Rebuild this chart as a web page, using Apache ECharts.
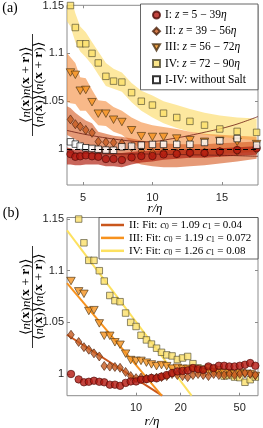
<!DOCTYPE html>
<html><head><meta charset="utf-8">
<script src="https://cdn.jsdelivr.net/npm/echarts@6/dist/echarts.min.js"></script>
<style>html,body{margin:0;padding:0;background:#fff;}#c{width:263px;height:428px;}</style>
</head><body><div id="c"></div>
<script>
// ---- data ----
const R = [3.64, 4.1, 4.45, 4.8, 5.2, 5.65, 6.1, 6.65, 7.2, 7.8, 8.5, 9.2, 10.0, 10.8, 11.75, 12.7, 13.75, 14.85, 16.1, 17.5,
  19.0, 20.6, 22.3, 24.2, 26.2, 28.4, 30.8, 33.4, 36.2, 39.3, 42.6, 46.2, 50.1, 54.3, 58.9, 63.8];
const S_I = [1.000, 0.9948, 0.992, 0.9925, 0.9935, 0.9925, 0.992, 0.9897, 0.9897, 0.9886, 0.9914, 0.9928, 0.9928, 0.9945, 0.995, 0.9962, 0.9958, 0.9975, 0.999, 1.001,
  1.0025, 1.003, 1.0035, 1.0058, 1.0048, 1.004, 1.0073, 1.0058, 1.008, 1.008, 1.0073, 1.0073, 1.008, 1.009, 1.0106, 1.008];
const S_II = [1.038, 1.031, 1.026, 1.0235, 1.020, 1.017, 1.0078, 1.0072, 1.0068, 1.006, 1.002, 0.998, 0.996, 0.9965, 0.9955, 0.996, 0.9965, 0.997, 0.998, 1.0,
  0.999, 0.998, 0.997, 0.999, 1.0, 0.999, 0.998, 1.0, 0.999, 0.999, 1.0, 0.999, 1.0, 1.001, 1.0, 0.999];
const S_III = [1.090, 1.080, 1.0776, 1.061, 1.0618, 1.049, 1.037, 1.037, 1.0307, 1.0283, 1.0197, 1.0135, 1.0127, 1.0127, 1.011, 1.0093, 1.0076, 1.0086, 1.0076, 1.0052,
  1.006, 1.005, 1.005, 1.004, 1.003, 1.002, 1.002, 1.002, 1.001, 1.001, 1.001, 1.0, 1.001, 1.0, 1.0, 0.998];
const S_IV = [null, 1.150, 1.127, 1.110, 1.110, 1.100, 1.090, 1.076, 1.071, 1.070, 1.059, 1.050, 1.046, 1.0375, 1.033, 1.029, 1.025, 1.021, 1.0185, 1.0175,
  1.014, 1.0155, 1.017, 1.010, 1.006, 1.005, 1.006, 1.005, 1.004, 0.998, 0.9985, 0.997, 0.9965, 0.992, 0.9945, 0.997];
const S_W = [null, 1.0076, 1.0052, 1.0031, 1.0014, 1.0007, 0.9998, 0.999, 0.9988, 1.0024, 1.003, 1.0041, 1.0049, 1.0049, 1.005, 1.005, 1.0069, 1.0086, 1.011, 1.0041];

// error bands of panel (a), on R[0..19]
const IV_LO = [1.138, 1.128, 1.112, 1.102, 1.096, 1.088, 1.078, 1.066, 1.063, 1.060, 1.049, 1.040, 1.033, 1.027, 1.022, 1.018, 1.015, 1.013, 1.011, 1.009];
const IV_HI = [1.170, 1.160, 1.142, 1.128, 1.122, 1.112, 1.102, 1.090, 1.084, 1.080, 1.069, 1.061, 1.056, 1.050, 1.046, 1.042, 1.038, 1.035, 1.033, 1.032];
const III_LO = [1.050, 1.048, 1.047, 1.040, 1.040, 1.032, 1.025, 1.024, 1.018, 1.015, 1.007, 1.000, 0.997, 0.996, 0.995, 0.994, 0.994, 0.995, 0.996, 0.997];
const III_HI = [1.104, 1.096, 1.090, 1.075, 1.074, 1.062, 1.051, 1.050, 1.044, 1.040, 1.033, 1.028, 1.025, 1.023, 1.021, 1.018, 1.016, 1.015, 1.014, 1.013];
const II_LO = [1.016, 1.013, 1.010, 1.007, 1.004, 1.002, 0.996, 0.994, 0.993, 0.991, 0.987, 0.984, 0.982, 0.981, 0.981, 0.982, 0.983, 0.985, 0.987, 0.990];
const II_HI = [1.046, 1.043, 1.038, 1.034, 1.030, 1.027, 1.018, 1.016, 1.014, 1.013, 1.011, 1.009, 1.007, 1.006, 1.005, 1.005, 1.005, 1.006, 1.007, 1.008];
const I_LO = [0.984, 0.984, 0.983, 0.983, 0.984, 0.984, 0.984, 0.982, 0.982, 0.981, 0.984, 0.986, 0.987, 0.989, 0.990, 0.991, 0.991, 0.992, 0.993, 0.994];
const I_HI = [1.002, 1.001, 0.999, 0.999, 0.9995, 0.999, 0.998, 0.997, 0.996, 0.996, 0.997, 0.998, 0.998, 0.999, 0.999, 1.0, 1.0, 1.001, 1.002, 1.003];

// thin envelope lines (without salt)
const WUP_R = [3.85, 5.48, 7.87, 9.56, 11.47, 13.88, 15.8, 17.6];
const WUP = [1.0195, 1.0145, 1.0093, 1.0076, 1.011, 1.018, 1.0248, 1.034];
const WLO_R = [3.85, 5.0, 7.0, 10.0, 13.0, 15.0, 17.6];
const WLO = [0.9965, 0.9955, 0.995, 0.9948, 0.994, 0.9935, 0.9925];

// fit lines of panel (b)
const FII_R = [3.42, 15.0], FII = [1.038, 0.979];
const FIII_R = [3.42, 14.9], FIII = [1.088, 0.979];
const FIV_R = [3.42, 23.7], FIV = [1.139, 0.979];

const XT_A = [5, 10, 15];
const XT_B = [10, 20, 50];
const YT = [1, 1.05, 1.1, 1.15];

// ---- helpers ----
const RB = R.slice(0, 20);
function pts(xs, ys) { return xs.map((x, i) => [x, ys[i]]).filter(p => p[1] != null); }
const AX = '#8c8c8c';
const fmt = v => String(+(+v).toFixed(2));
function mkX(gi, type, min, max, ticks, pos) {
  const o = { gridIndex: gi, type, min, max, position: pos,
    axisLine: { show: false }, splitLine: { show: false }, minorTick: { show: false },
    axisTick: { show: true, inside: true, length: 3, customValues: ticks, lineStyle: { color: AX, width: 1 } },
    axisLabel: { show: pos === 'bottom', customValues: ticks, margin: 7, fontSize: 11, fontFamily: 'Liberation Sans', color: '#262626', formatter: fmt } };
  if (type === 'log') o.logBase = 10;
  return o;
}
function mkY(gi, min, max, pos) {
  return { gridIndex: gi, type: 'value', min, max, position: pos,
    axisLine: { show: false }, splitLine: { show: false },
    axisTick: { show: true, inside: true, length: 3, customValues: YT, lineStyle: { color: AX, width: 1 } },
    axisLabel: { show: pos === 'left', customValues: YT, margin: 3, fontSize: 11, fontFamily: 'Liberation Sans', color: '#262626', formatter: fmt } };
}
function band(lo, hi, color) {
  return { type: 'custom', xAxisIndex: 0, yAxisIndex: 0, clip: true, silent: true, z: 1,
    data: [[RB[1], lo[1]]],
    renderItem: (params, api) => {
      const top = RB.map((x, i) => api.coord([x, hi[i]]));
      const bot = RB.map((x, i) => api.coord([x, lo[i]])).reverse();
      return { type: 'polygon', shape: { points: top.concat(bot) }, style: { fill: color } };
    } };
}
const TRI = 'path://M0,0L10,0L5,9Z';
const MK = {
  I: { symbol: 'circle', symbolSize: 7.5, itemStyle: { color: '#b3170f', borderColor: '#4a0a06', borderWidth: 0.8 } },
  II: { symbol: 'diamond', symbolSize: [6.5, 9], itemStyle: { color: '#c65a1f', borderColor: '#4a220c', borderWidth: 0.8 } },
  III: { symbol: TRI, symbolSize: [8.5, 7.5], itemStyle: { color: '#f5921e', borderColor: '#4a3010', borderWidth: 0.8 } },
  IV: { symbol: 'rect', symbolSize: 6.5, itemStyle: { color: '#fbe06a', borderColor: '#4f4a30', borderWidth: 0.8 } },
  W: { symbol: 'rect', symbolSize: 6.5, itemStyle: { color: '#ffffff', borderColor: '#000000', borderWidth: 0.8 } }
};
function sc(name, key, xi, yi, data, z, extra) {
  return Object.assign({ type: 'scatter', name, xAxisIndex: xi, yAxisIndex: yi, data, z, clip: true, silent: true }, MK[key], extra || {});
}
function fit(name, xs, ys, color) {
  return { type: 'line', name, xAxisIndex: 2, yAxisIndex: 2, data: pts(xs, ys), symbol: 'none', color, silent: true, z: 2,
    lineStyle: { color, width: 2 } };
}

const LEG_A = {
  I: '{n|I: }{i|z}{n| = 5 − 39}{i|η}',
  II: '{n|II: }{i|z}{n| = 39 − 56}{i|η}',
  III: '{n|III: }{i|z}{n| = 56 − 72}{i|η}',
  IV: '{n|IV: }{i|z}{n| = 72 − 90}{i|η}',
  W: '{n|I-IV: without Salt}'
};
const LEG_B = {
  fII: '{n|II: Fit: }{i|c}{s|0}{n| = 1.09 }{i|c}{s|1}{n| = 0.04}',
  fIII: '{n|III: Fit: }{i|c}{s|0}{n| = 1.19 }{i|c}{s|1}{n| = 0.072}',
  fIV: '{n|IV: Fit: }{i|c}{s|0}{n| = 1.26 }{i|c}{s|1}{n| = 0.08}'
};
const SERIF = 'Liberation Serif';

const fracRich = {
  a: { fontFamily: SERIF, fontSize: 13.5, fill: '#000' },
  i: { fontFamily: SERIF, fontSize: 13.5, fontStyle: 'italic', fill: '#000' },
  b: { fontFamily: SERIF, fontSize: 13.5, fontWeight: 'bold', fill: '#000' }
};
const NUM = '{a|⟨}{i|n}{a|(}{b|x}{a|)}{i|n}{a|(}{b|x}{a| + }{b|r}{a|)⟩}';
const DEN = '{a|⟨}{i|n}{a|(}{b|x}{a|)⟩⟨}{i|n}{a|(}{b|x}{a| + }{b|r}{a|)⟩}';
function frac(x, y) {
  return { type: 'group', x, y, rotation: Math.PI / 2, children: [
    { type: 'text', x: 0, y: -6.5, style: { text: NUM, rich: fracRich, align: 'center', verticalAlign: 'middle' } },
    { type: 'line', shape: { x1: -51, y1: 0, x2: 51, y2: 0 }, style: { stroke: '#000', lineWidth: 0.8 } },
    { type: 'text', x: 0, y: 6.5, style: { text: DEN, rich: fracRich, align: 'center', verticalAlign: 'middle' } }
  ] };
}
function txt(x, y, text, size, italic) {
  return { type: 'text', x, y, style: { text, fontFamily: SERIF, fontSize: size, fontStyle: italic ? 'italic' : 'normal', fill: '#000', align: 'center', verticalAlign: 'middle' } };
}

const option = {
  animation: false,
  backgroundColor: '#fff',
  grid: [
    { left: 67, top: 4, width: 191, height: 181, show: true, borderColor: AX, borderWidth: 1, backgroundColor: 'transparent' },
    { left: 67, top: 217.5, width: 191, height: 178.2, show: true, borderColor: AX, borderWidth: 1, backgroundColor: 'transparent' }
  ],
  xAxis: [
    mkX(0, 'value', 3.85, 17.6, XT_A, 'bottom'),
    mkX(0, 'value', 3.85, 17.6, XT_A, 'top'),
    mkX(1, 'log', 3.42, 66.5, XT_B, 'bottom'),
    mkX(1, 'log', 3.42, 66.5, XT_B, 'top')
  ],
  yAxis: [
    mkY(0, 0.9625, 1.1502, 'left'),
    mkY(0, 0.9625, 1.1502, 'right'),
    mkY(1, 0.979, 1.1515, 'left'),
    mkY(1, 0.979, 1.1515, 'right')
  ],
  legend: [
    { data: ['I', 'II', 'III', 'IV', 'W'], right: 5, top: 4, orient: 'vertical', selectedMode: false,
      padding: [5, 6, 4, 11.5], itemWidth: 7, itemHeight: 7, itemGap: 4.2,
      backgroundColor: '#fff', borderColor: '#404040', borderWidth: 0.8, borderRadius: 0,
      formatter: n => LEG_A[n],
      textStyle: { width: 87, fontSize: 11.5, lineHeight: 10, fontFamily: SERIF, color: '#000',
        rich: { n: { fontFamily: SERIF, fontSize: 11.5, lineHeight: 10, color: '#000' },
                i: { fontFamily: SERIF, fontSize: 11.5, lineHeight: 10, fontStyle: 'italic', color: '#000' } } } },
    { data: ['fII', 'fIII', 'fIV'], right: 5, top: 217.5, orient: 'vertical', selectedMode: false, icon: 'rect',
      padding: [1.5, 2, 2.2, 2], itemWidth: 23, itemHeight: 2.5, itemGap: 0.9,
      backgroundColor: '#fff', borderColor: '#404040', borderWidth: 0.8, borderRadius: 0,
      formatter: n => LEG_B[n],
      textStyle: { width: 127, fontSize: 11, lineHeight: 12, fontFamily: SERIF, color: '#000',
        rich: { n: { fontFamily: SERIF, fontSize: 11, lineHeight: 12, color: '#000' },
                i: { fontFamily: SERIF, fontSize: 11, lineHeight: 12, fontStyle: 'italic', color: '#000' },
                s: { fontFamily: SERIF, fontSize: 7.5, lineHeight: 7, verticalAlign: 'bottom', color: '#000' } } } }
  ],
  graphic: [
    txt(10, 8, '(a)', 14, false),
    txt(11, 213, '(b)', 14, false),
    txt(155, 209, 'r/η', 13, true),
    txt(152, 421.5, 'r/η', 13, true),
    frac(32.5, 85),
    frac(32.5, 297)
  ],
  series: [
    band(IV_LO, IV_HI, 'rgba(251,214,80,0.55)'),
    band(III_LO, III_HI, 'rgba(242,128,40,0.55)'),
    band(II_LO, II_HI, 'rgba(214,92,36,0.62)'),
    band(I_LO, I_HI, 'rgba(176,30,14,0.68)'),
    { type: 'line', xAxisIndex: 0, yAxisIndex: 0, data: pts(WUP_R, WUP), smooth: 0.4, symbol: 'none', silent: true, z: 2,
      lineStyle: { color: '#6b1a12', width: 0.8 } },
    { type: 'line', xAxisIndex: 0, yAxisIndex: 0, data: pts(WLO_R, WLO), smooth: 0.4, symbol: 'none', silent: true, z: 2,
      lineStyle: { color: '#6b1a12', width: 0.8 } },
    sc('IV', 'IV', 0, 0, pts(R, S_IV), 3),
    sc('III', 'III', 0, 0, pts(R, S_III), 3),
    sc('II', 'II', 0, 0, pts(R, S_II), 3),
    sc('I', 'I', 0, 0, pts(R, S_I), 3),
    sc('W', 'W', 0, 0, pts(RB, S_W), 3, {
      markLine: { silent: true, symbol: 'none', label: { show: false }, animation: false,
        lineStyle: { type: [5, 3], color: '#000', width: 1 }, data: [{ yAxis: 1 }] } }),
    fit('fII', FII_R, FII, '#c9561c'),
    fit('fIII', FIII_R, FIII, '#f7921e'),
    fit('fIV', FIV_R, FIV, '#fde160'),
    sc('IVb', 'IV', 2, 2, pts(R, S_IV), 3),
    sc('IIIb', 'III', 2, 2, pts(R, S_III), 3),
    sc('IIb', 'II', 2, 2, pts(R, S_II), 3),
    sc('Ib', 'I', 2, 2, pts(R, S_I), 3)
  ]
};
const chart = echarts.init(document.getElementById('c'), null, { renderer: 'canvas' });
chart.setOption(option);
</script></body></html>
